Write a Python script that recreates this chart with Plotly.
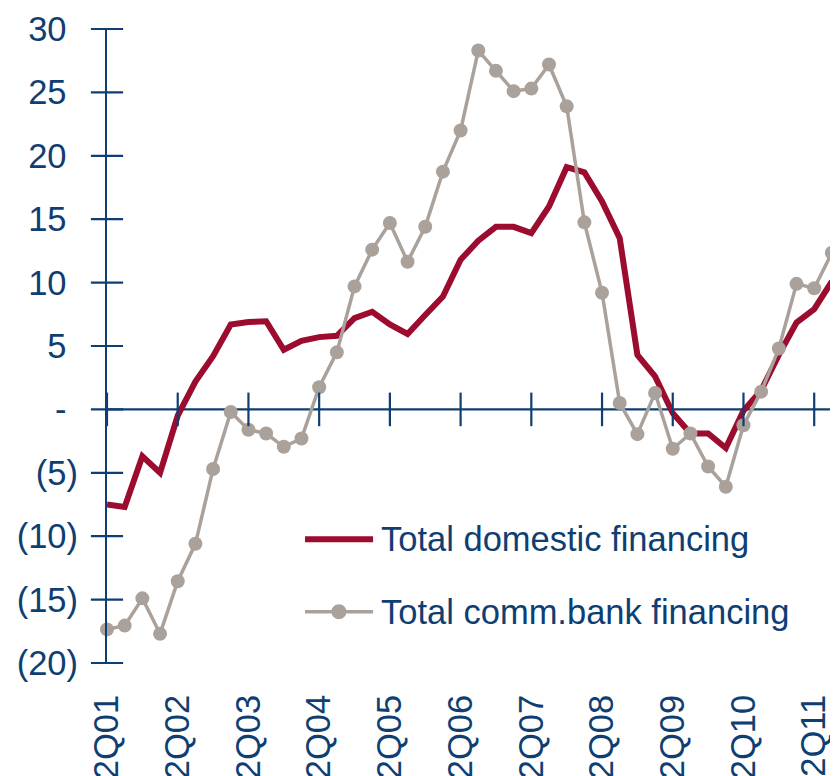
import plotly.graph_objects as go

# quarterly series, 2Q01 .. 3Q11
quarters = []
for yr in range(1, 12):
    for q in (1, 2, 3, 4):
        if (yr == 1 and q < 2) or (yr == 11 and q > 3):
            continue
        quarters.append(f"{q}Q{yr:02d}")

domestic = [-7.5, -7.7, -3.7, -5.0, -0.5, 2.2, 4.2, 6.7, 6.9, 6.95,
            4.7, 5.4, 5.7, 5.8, 7.2, 7.7, 6.7, 5.95, 7.45, 8.9,
            11.8, 13.3, 14.4, 14.4, 13.9, 16.0, 19.1, 18.7, 16.4, 13.5,
            4.3, 2.6, -0.3, -1.9, -1.9, -3.05, -0.1, 1.5, 4.3, 6.85,
            7.9, 10.1]

comm_bank = [-17.35, -17.05, -14.9, -17.7, -13.55, -10.6, -4.7, -0.2, -1.6, -1.9,
             -2.95, -2.3, 1.75, 4.5, 9.7, 12.6, 14.7, 11.65, 14.4, 18.75,
             22.0, 28.3, 26.7, 25.1, 25.3, 27.2, 23.9, 14.75, 9.2, 0.5,
             -1.95, 1.3, -3.1, -1.9, -4.5, -6.1, -1.25, 1.4, 4.8, 9.9,
             9.55, 12.35]

x_ticks = quarters[::4]
y_ticks = [-20, -15, -10, -5, 0, 5, 10, 15, 20, 25, 30]
y_labels = ["(20)", "(15)", "(10)", "(5)", "-", "5", "10", "15", "20", "25", "30"]

NAVY = "#0f3e72"
RED = "#9c0c2e"
GREY = "#aaa19b"
FONT = "Liberation Sans, Arial, sans-serif"

# accounting style: non-negative labels keep room for the closing bracket
pad = "<span style='color:white'>)</span>"
y_ticktext = [t if t.startswith("(") else t + pad for t in y_labels]

fig = go.Figure()

fig.add_trace(go.Scatter(
    x=quarters, y=domestic, mode="lines", name="Total domestic financing",
    line=dict(color=RED, width=6), cliponaxis=False,
))
fig.add_trace(go.Scatter(
    x=quarters, y=comm_bank, mode="lines+markers", name="Total comm.bank financing",
    line=dict(color=GREY, width=3.5), marker=dict(color=GREY, size=14),
    cliponaxis=False,
))

# axis crossing tick marks
fig.add_trace(go.Scatter(
    x=x_ticks, y=[0] * len(x_ticks), mode="markers", hoverinfo="skip",
    marker=dict(symbol="line-ns", size=24, line=dict(color=NAVY, width=2.2)),
    cliponaxis=False, showlegend=False,
))
fig.add_trace(go.Scatter(
    x=[quarters[0]] * len(y_ticks), y=y_ticks, mode="markers", hoverinfo="skip",
    marker=dict(symbol="line-ew", size=23, line=dict(color=NAVY, width=2.2)),
    cliponaxis=False, showlegend=False,
))

# zero line acting as the x axis
fig.add_shape(type="line", xref="paper", yref="y", x0=0, x1=1, y0=0, y1=0,
              line=dict(color=NAVY, width=2.2), layer="below")

# hand-drawn legend
fig.add_shape(type="line", xref="paper", yref="paper", x0=0.2724, x1=0.366,
              y0=0.195, y1=0.195, line=dict(color=RED, width=6))
fig.add_shape(type="line", xref="paper", yref="paper", x0=0.2724, x1=0.366,
              y0=0.081, y1=0.081, line=dict(color=GREY, width=3.5))
fig.add_shape(type="circle", xref="paper", yref="paper", xsizemode="pixel",
              ysizemode="pixel", xanchor=0.319, yanchor=0.081,
              x0=-7.5, x1=7.5, y0=-7.5, y1=7.5,
              fillcolor=GREY, line=dict(width=0))
fig.add_annotation(text="Total domestic financing", xref="paper", yref="paper",
                   x=0.374, y=0.195, xanchor="left", yanchor="middle",
                   showarrow=False, font=dict(size=34.5, color=NAVY, family=FONT))
fig.add_annotation(text="Total comm.bank financing", xref="paper", yref="paper",
                   x=0.374, y=0.081, xanchor="left", yanchor="middle",
                   showarrow=False, font=dict(size=34.5, color=NAVY, family=FONT))

# page body has an 8px margin, so the figure is sized to end at the window edge
fig.update_layout(
    width=830, height=768,
    margin=dict(l=99, r=4, t=21, b=113),
    plot_bgcolor="white", paper_bgcolor="white",
    showlegend=False,
    font=dict(family=FONT, color=NAVY, size=34.5),
)
fig.update_xaxes(
    type="category", range=[0, 41.12], tickmode="array", tickvals=x_ticks,
    tickangle=-90, ticks="", ticklabelstandoff=24, showgrid=False,
    showline=False, zeroline=False, automargin=False,
    tickfont=dict(size=34.5, color=NAVY),
)
fig.update_yaxes(
    range=[-20, 30], tickmode="array", tickvals=y_ticks, ticktext=y_ticktext,
    ticks="", ticklabelstandoff=20, showgrid=False, zeroline=False,
    showline=True, linecolor=NAVY, linewidth=2.2, automargin=False,
    tickfont=dict(size=34.5, color=NAVY),
)

fig.write_html("out.html")
